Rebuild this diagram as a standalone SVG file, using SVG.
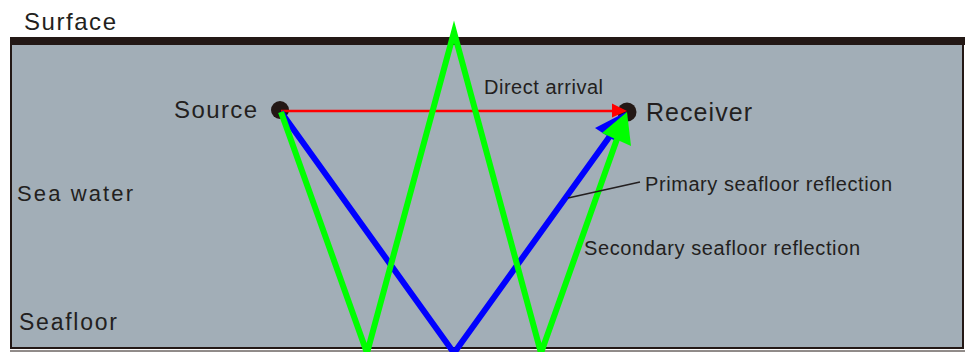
<svg xmlns="http://www.w3.org/2000/svg" width="965" height="352" viewBox="0 0 965 352">
<style>
.lbl{font-family:"Liberation Sans",Arial,sans-serif;fill:#231f20}
.ray{fill:none;stroke-linejoin:miter;stroke-linecap:butt}
.green{stroke:#00ff00;stroke-width:6}
.blue{stroke:#0000ff;stroke-width:6}
.red{stroke:#ff0000;stroke-width:2.5}
.dot{fill:#231815}
</style>
<rect width="965" height="352" fill="#ffffff"/>
<g id="water">
<rect x="11" y="41" width="952" height="307" fill="#a2aeb7" stroke="#231815" stroke-width="2"/>
<rect x="10" y="37" width="955" height="8" fill="#231815"/>
<line x1="10" y1="351" x2="965" y2="351" stroke="#231815" stroke-width="1"/>
</g>
<text class="lbl" x="24" y="30" font-size="24" textLength="92" lengthAdjust="spacing">Surface</text>
<text class="lbl" x="17" y="201" font-size="22" textLength="116" lengthAdjust="spacing">Sea water</text>
<text class="lbl" x="19" y="330" font-size="23" textLength="98" lengthAdjust="spacing">Seafloor</text>
<g id="source">
<circle class="dot" cx="280" cy="110" r="9"/>
<text class="lbl" x="174" y="118" font-size="24" textLength="83" lengthAdjust="spacing">Source</text>
</g>
<g id="receiver">
<circle class="dot" cx="627" cy="112" r="9.5"/>
<text class="lbl" x="646" y="121" font-size="25" textLength="106" lengthAdjust="spacing">Receiver</text>
</g>
<g id="connectors">
<line class="ray red" x1="281" y1="111" x2="615" y2="111"/>
<polygon points="627,111 612,103.5 612,117.5" fill="#ff0000"/>
<polyline class="ray blue" points="281,112 454,353 610,136"/>
<polygon points="626,112 595,128 618,143" fill="#0000ff"/>
<polyline class="ray green" points="281,112 367,353 454,32 541,353 617,139"/>
<polygon points="627,112 602,133 631,146" fill="#00ff00"/>
<line x1="568" y1="198" x2="640" y2="182" stroke="#231f20" stroke-width="1.5"/>
</g>
<text class="lbl" x="484" y="94" font-size="20" textLength="119" lengthAdjust="spacing">Direct arrival</text>
<text class="lbl" x="645" y="191" font-size="20" textLength="247" lengthAdjust="spacing">Primary seafloor reflection</text>
<text class="lbl" x="584" y="255" font-size="20" textLength="276" lengthAdjust="spacing">Secondary seafloor reflection</text>
</svg>
